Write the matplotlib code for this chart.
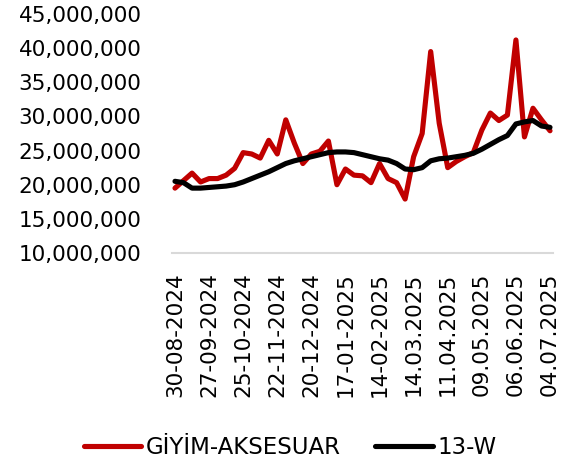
import numpy as np
import matplotlib
matplotlib.use("Agg")
import matplotlib.pyplot as plt
from matplotlib.ticker import FuncFormatter

# weekly values, 30-08-2024 .. 04-07-2025
giyim = [19.5, 20.6, 21.7, 20.4, 20.9, 20.9, 21.4, 22.4, 24.7, 24.5,
         23.9, 26.5, 24.5, 29.5, 26.1, 23.1, 24.5, 24.9, 26.4, 20.0,
         22.3, 21.4, 21.3, 20.3, 23.1, 20.9, 20.3, 17.9, 24.1, 27.5,
         39.5, 29.0, 22.5, 23.4, 24.1, 24.7, 28.0, 30.5, 29.4, 30.2,
         41.2, 27.0, 31.2, 29.5, 27.9]
w13 = [20.5, 20.3, 19.5, 19.5, 19.6, 19.7, 19.8, 20.0, 20.4, 20.9,
       21.4, 21.9, 22.5, 23.1, 23.5, 23.8, 24.1, 24.4, 24.7, 24.8,
       24.8, 24.7, 24.4, 24.1, 23.8, 23.6, 23.1, 22.3, 22.2, 22.5,
       23.5, 23.8, 23.9, 24.1, 24.3, 24.6, 25.2, 25.9, 26.6, 27.2,
       28.9, 29.2, 29.4, 28.6, 28.4]
giyim = np.array(giyim) * 1e6
w13 = np.array(w13) * 1e6

tick_labels = ["30-08-2024", "27-09-2024", "25-10-2024", "22-11-2024",
               "20-12-2024", "17-01-2025", "14-02-2025", "14.03.2025",
               "11.04.2025", "09.05.2025", "06.06.2025", "04.07.2025"]

plt.rcParams['font.family'] = ['DejaVu Sans']
fsz = 15.5

fig = plt.figure(figsize=(5.69, 4.67), dpi=100)
ax = fig.add_axes([172/569, 1-253/467, 381/569, 239/467])

x = np.arange(len(giyim))
ax.plot(x, giyim, color="#c00000", lw=3.7, label="GİYİM-AKSESUAR", solid_capstyle="round")
ax.plot(x, w13, color="black", lw=3.7, label="13-W", solid_capstyle="round")

ax.set_xlim(-0.35, len(x) - 1 + 0.35)
ax.set_ylim(10e6, 45e6)
ax.set_yticks(np.arange(10e6, 45.1e6, 5e6))
ax.yaxis.set_major_formatter(FuncFormatter(lambda v, p: f"{int(v):,}"))
ax.set_xticks(x[::4])
ax.set_xticklabels(tick_labels, rotation=90)

for s in ["top", "right", "left"]:
    ax.spines[s].set_visible(False)
ax.spines["bottom"].set_color("#d9d9d9")
ax.spines["bottom"].set_linewidth(1.5)
ax.tick_params(axis="both", length=0, labelsize=fsz, colors="black")
ax.tick_params(axis="x", pad=14)
ax.tick_params(axis="y", pad=22)

fig.legend(loc="center", bbox_to_anchor=(0.51, 1-448/467), ncol=2, frameon=False,
           fontsize=16.5, handlelength=2.5, handletextpad=0.2, columnspacing=1.5)

fig.savefig("out.png", dpi=100)
